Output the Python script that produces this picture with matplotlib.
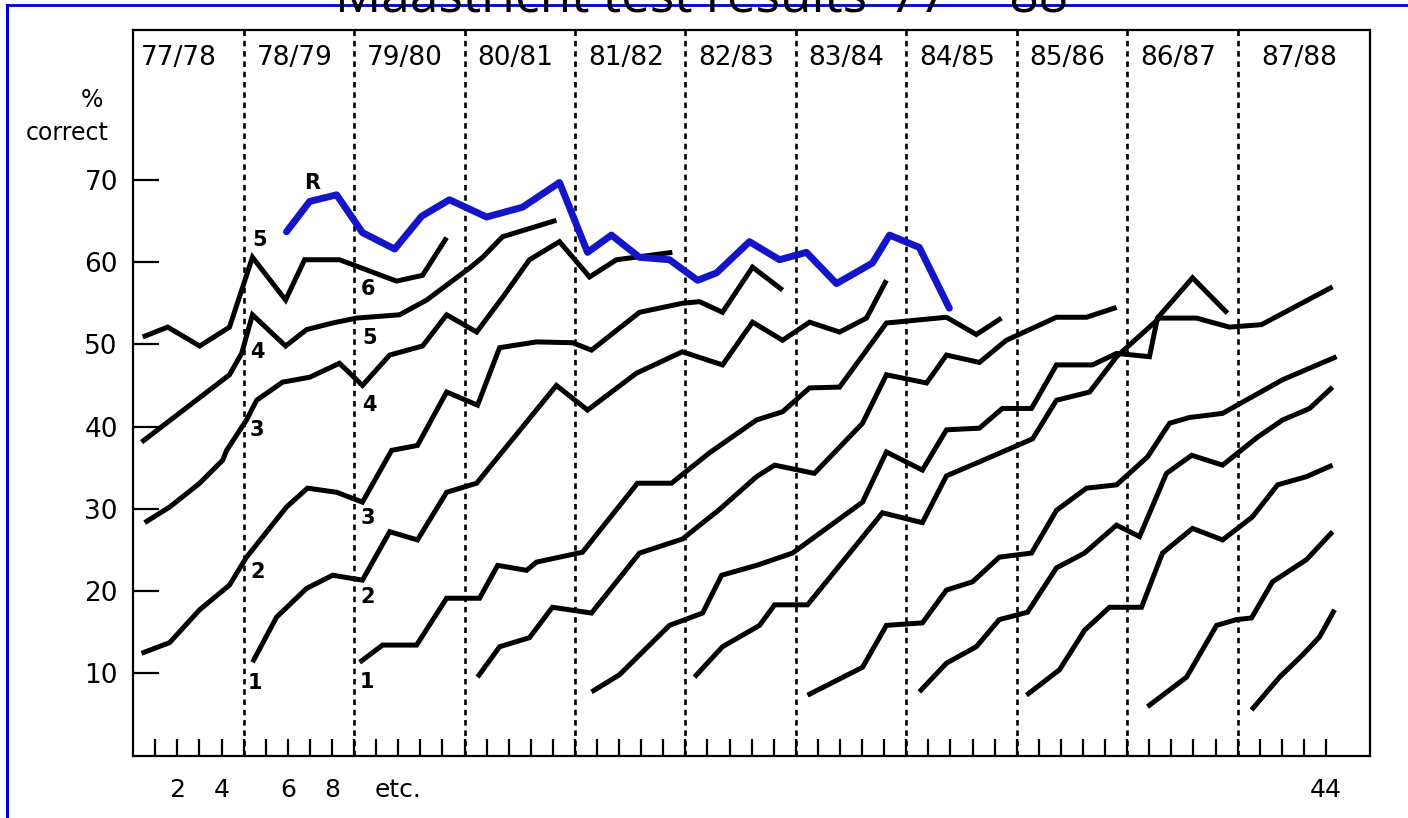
import matplotlib
matplotlib.use("Agg")
import matplotlib.pyplot as plt
from matplotlib.lines import Line2D

# x = position on the test axis (5 tick steps per school year), y = % correct
# curves follow one entering class (cohort) through the years

coh74_x = [0.43, 1.56, 3.01, 4.36, 5.40, 6.90, 7.76, 9.34, 11.92, 13.10, 14.19]
coh74_y = [50.9, 52.1, 49.8, 52.1, 60.6, 55.4, 60.3, 60.3, 57.7, 58.4, 63.0]

coh75_x = [0.38, 4.36, 4.91, 5.40, 6.90, 7.85, 9.03, 10.11, 12.06, 13.29, 15.23, 15.82, 16.72, 19.16]
coh75_y = [38.1, 46.3, 48.9, 53.6, 49.8, 51.8, 52.6, 53.2, 53.6, 55.4, 59.3, 60.6, 63.1, 65.1]

coh76_x = [0.52, 1.65, 3.01, 4.05, 4.23, 5.13, 5.59, 6.76, 7.99, 9.34, 10.38, 11.61, 13.10,
           14.19, 15.55, 16.72, 17.94, 19.30, 20.66, 21.88, 24.41]
coh76_y = [28.3, 30.2, 33.1, 35.9, 37.1, 40.8, 43.2, 45.4, 46.0, 47.7, 45.0, 48.7, 49.8,
           53.6, 51.5, 55.7, 60.3, 62.5, 58.2, 60.3, 61.2]

coh77_x = [0.38, 1.65, 3.01, 4.36, 5.13, 6.94, 7.89, 9.21, 10.38, 11.70, 12.87, 14.19,
           15.59, 16.59, 18.26, 19.89, 20.75, 22.92, 24.86, 25.64, 26.68, 28.04, 29.40]
coh77_y = [12.4, 13.7, 17.7, 20.7, 24.1, 30.2, 32.5, 32.0, 30.8, 37.1, 37.7, 44.2,
           42.6, 49.6, 50.3, 50.2, 49.3, 53.9, 55.0, 55.2, 53.9, 59.4, 56.6]

coh78_x = [5.40, 6.49, 7.85, 9.03, 10.38, 11.61, 12.87, 14.19, 15.55, 19.16, 20.57, 22.79,
           24.86, 26.68, 28.04, 29.40, 30.62, 31.98, 33.20, 34.10]
coh78_y = [11.3, 16.8, 20.3, 21.9, 21.3, 27.2, 26.2, 32.0, 33.1, 45.0, 42.0, 46.5,
           49.1, 47.5, 52.7, 50.5, 52.7, 51.5, 53.2, 57.8]

coh79_x = [10.25, 11.29, 12.83, 14.19, 15.68, 16.50, 17.81, 18.26, 20.34, 22.83, 24.37,
           26.09, 28.22, 29.40, 30.62, 31.98, 34.10, 36.82, 38.17, 39.31]
coh79_y = [11.3, 13.4, 13.4, 19.1, 19.1, 23.1, 22.5, 23.5, 24.7, 33.1, 33.1,
           36.8, 40.8, 41.8, 44.7, 44.8, 52.6, 53.3, 51.2, 53.2]

coh80_x = [15.59, 16.59, 17.94, 18.98, 20.75, 22.92, 24.86, 26.54, 28.22, 29.04, 30.84,
           33.02, 34.10, 35.92, 36.82, 38.31, 39.53, 41.80, 43.16, 44.52]
coh80_y = [9.5, 13.2, 14.3, 18.0, 17.3, 24.6, 26.3, 29.9, 33.9, 35.3, 34.3,
           40.4, 46.3, 45.3, 48.7, 47.8, 50.5, 53.3, 53.3, 54.5]

coh81_x = [20.75, 22.02, 24.28, 25.78, 26.64, 28.22, 29.85, 33.02, 34.10, 35.73, 36.82,
           38.31, 39.35, 40.67, 41.80, 43.43, 44.52, 46.01, 46.37, 47.96, 49.54]
coh81_y = [7.7, 9.8, 15.8, 17.3, 21.9, 23.1, 24.6, 30.8, 36.9, 34.7, 39.6,
           39.8, 42.2, 42.2, 47.5, 47.5, 48.9, 48.5, 53.2, 58.1, 53.8]

coh82_x = [25.41, 26.68, 28.36, 29.04, 30.53, 33.92, 35.73, 36.82, 38.31, 40.72, 41.80,
           43.30, 44.52, 46.46, 48.14, 49.63, 51.08, 54.30]
coh82_y = [9.5, 13.2, 15.8, 18.3, 18.3, 29.5, 28.3, 34.0, 35.7, 38.5, 43.2,
           44.2, 48.5, 53.2, 53.2, 52.1, 52.4, 57.0]

coh83_x = [30.53, 33.02, 34.10, 35.73, 36.82, 38.00, 39.21, 40.67, 41.80, 43.16, 44.52,
           45.92, 46.92, 47.82, 49.32, 52.04, 54.48]
coh83_y = [7.3, 10.7, 15.8, 16.1, 20.1, 21.1, 24.1, 24.6, 29.8, 32.5, 32.9,
           36.3, 40.4, 41.1, 41.6, 45.7, 48.5]

coh84_x = [35.59, 36.82, 38.17, 39.21, 40.49, 41.80, 43.07, 44.52, 45.56, 46.78, 47.92,
           49.32, 50.90, 52.04, 53.26, 54.30]
coh84_y = [7.7, 11.2, 13.2, 16.5, 17.4, 22.8, 24.6, 28.0, 26.6, 34.3, 36.5,
           35.3, 38.7, 40.8, 42.2, 44.8]

coh85_x = [40.44, 41.94, 43.07, 44.20, 45.65, 46.60, 47.96, 49.32, 50.67, 51.81, 53.12, 54.30]
coh85_y = [7.3, 10.4, 15.2, 18.0, 18.0, 24.6, 27.6, 26.2, 29.0, 32.9, 33.9, 35.3]

coh86_x = [45.92, 47.69, 49.05, 49.95, 50.63, 51.58, 53.12, 54.30]
coh86_y = [5.9, 9.5, 15.8, 16.5, 16.7, 21.1, 23.8, 27.2]

coh87_x = [50.63, 51.90, 52.94, 53.71, 54.39]
coh87_y = [5.5, 9.5, 12.2, 14.4, 17.7]

# R (blue curve)
r_x = [6.94, 7.99, 9.21, 10.38, 11.84, 13.06, 14.32, 16.00, 17.63, 19.30, 20.57, 21.65,
       22.92, 24.28, 25.55, 26.41, 27.90, 29.26, 30.48, 31.84, 33.47, 34.24, 35.59, 36.95]
r_y = [63.7, 67.4, 68.2, 63.6, 61.6, 65.6, 67.6, 65.5, 66.7, 69.7, 61.2, 63.3,
       60.6, 60.3, 57.8, 58.7, 62.5, 60.3, 61.2, 57.4, 59.9, 63.3, 61.8, 54.4]

years = ['77/78', '78/79', '79/80', '80/81', '81/82', '82/83',
         '83/84', '84/85', '85/86', '86/87', '87/88']
y_ticks = [10, 20, 30, 40, 50, 60, 70]
x_labels = ['2', '4', '6', '8', 'etc.', '44']
x_label_pos = [2, 4, 7, 9, 12, 54]

# study-year numbers written next to the curves
curve_labels = ['5', '4', '3', '2', '1', '6', '5', '4', '3', '2', '1']

cohorts = [(coh74_x, coh74_y), (coh75_x, coh75_y), (coh76_x, coh76_y), (coh77_x, coh77_y),
           (coh78_x, coh78_y), (coh79_x, coh79_y), (coh80_x, coh80_y), (coh81_x, coh81_y),
           (coh82_x, coh82_y), (coh83_x, coh83_y), (coh84_x, coh84_y), (coh85_x, coh85_y),
           (coh86_x, coh86_y), (coh87_x, coh87_y)]


fig = plt.figure(figsize=(14.08, 8.18), dpi=100)
ax = fig.add_axes([0.0946, 0.0758, 0.8785, 0.8875])
ax.set_xlim(0, 56)
ax.set_ylim(-0.1, 88.26)

for s in ax.spines.values():
    s.set_linewidth(1.6)

# year separators
for k in range(1, len(years)):
    ax.axvline(5 * k, color='black', lw=1.9, dashes=(2.1, 1.8), zorder=1)

year_centers = [2.05] + [5 * k + 2.3 for k in range(1, 10)] + [52.8]
for lab, c in zip(years, year_centers):
    ax.text(c, 84.85, lab, ha='center', va='center', fontsize=19)

for xs, ys in cohorts:
    ax.plot(xs, ys, color='black', lw=3.6, solid_joinstyle='miter',
            solid_capstyle='butt', zorder=3)
ax.plot(r_x, r_y, color='#1414c8', lw=5, solid_joinstyle='round',
        solid_capstyle='round', zorder=4)

ax.set_xticks(range(1, 55))
ax.tick_params(axis='x', direction='in', length=12, width=1.6, labelbottom=False)
ax.set_yticks(y_ticks)
ax.set_yticklabels([str(t) for t in y_ticks])
ax.tick_params(axis='y', direction='in', length=18.5, width=1.6, pad=11, labelsize=19)

for lab, xp in zip(x_labels, x_label_pos):
    ax.text(xp, -4.2, lab, ha='center', va='center', fontsize=18, clip_on=False)

ax.text(-1.88, 79.7, '%', ha='center', va='center', fontsize=17, clip_on=False)
ax.text(-2.97, 75.7, 'correct', ha='center', va='center', fontsize=17, clip_on=False)

label_x = [5.73, 5.64, 5.59, 5.64, 5.50, 10.61, 10.70, 10.70, 10.61, 10.61, 10.57]
label_y = [62.7, 49.1, 39.6, 22.3, 8.8, 56.7, 50.8, 42.6, 28.9, 19.3, 8.9]
for lab, xp, yp in zip(curve_labels, label_x, label_y):
    ax.text(xp, yp, lab, ha='center', va='center', fontsize=15, fontweight='bold', zorder=5)
ax.text(8.12, 69.7, 'R', ha='center', va='center', fontsize=15, fontweight='bold', zorder=5)

# blue frame and clipped title at the very top
fig.add_artist(Line2D([7 / 1408, 1], [1 - 5 / 818, 1 - 5 / 818], transform=fig.transFigure,
                      color='#0000d2', lw=2))
fig.add_artist(Line2D([7.5 / 1408, 7.5 / 1408], [1 - 5 / 818, 0], transform=fig.transFigure,
                      color='#0000d2', lw=2.2))
fig.text(0.4986, 1 - 11 / 818, "Maastricht test results \u201977 \u2013 \u201988",
         ha='center', va='baseline', fontsize=37, family='Open Sans', zorder=10)

fig.savefig('out.png', dpi=100)
